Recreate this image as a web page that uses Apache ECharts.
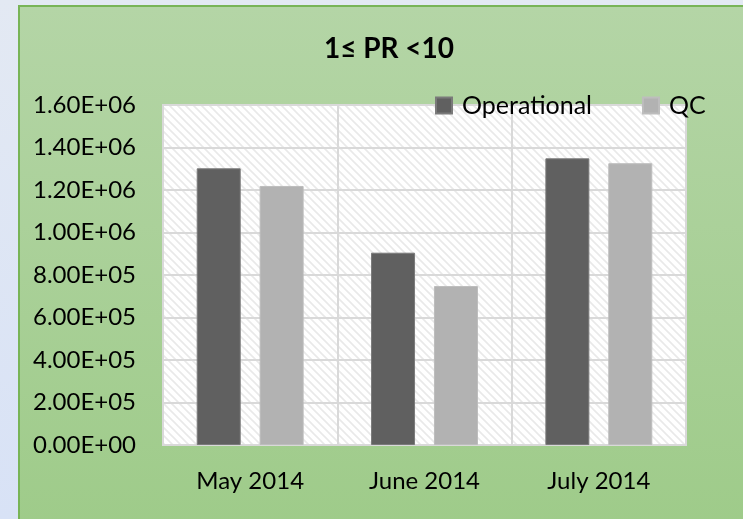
<!DOCTYPE html>
<html>
<head>
<meta charset="utf-8">
<script src="https://cdn.jsdelivr.net/npm/echarts@6/dist/echarts.min.js"></script>
<style>
html,body{margin:0;padding:0;width:743px;height:519px;overflow:hidden;background:linear-gradient(180deg,#e3e9f3 0%,#d8e2f6 100%);}
#panel{position:absolute;left:18px;top:5px;width:740px;height:530px;border:2px solid #78b457;background:linear-gradient(180deg,#b4d5a6 0%,#9ecb89 100%);}
#chart{position:absolute;left:0;top:0;width:743px;height:519px;}
</style>
</head>
<body>
<div id="panel"></div>
<div id="chart"></div>
<script>
const categories = ['May 2014', 'June 2014', 'July 2014'];
const operational = [1302000, 905000, 1349000];
const qc = [1219000, 748000, 1326000];
const yTickLabels = ['0.00E+00','2.00E+05','4.00E+05','6.00E+05','8.00E+05','1.00E+06','1.20E+06','1.40E+06','1.60E+06'];
const seriesNames = ['Operational', 'QC'];
const titleText = '1\u2264 PR <10';

const p = 8;
const cv = document.createElement('canvas');
cv.width = p; cv.height = p;
const cx = cv.getContext('2d');
cx.fillStyle = '#ffffff';
cx.fillRect(0, 0, p, p);
cx.strokeStyle = '#e9e9e9';
cx.lineWidth = 1.6;
cx.beginPath();
cx.moveTo(-2, -2); cx.lineTo(p + 2, p + 2);
cx.moveTo(-p - 2, -2); cx.lineTo(2, p + 2);
cx.moveTo(p - 2, -2); cx.lineTo(2 * p + 2, p + 2);
cx.stroke();

const FONT = 'Lato';
const chart = echarts.init(document.getElementById('chart'), null, {renderer: 'canvas'});
chart.setOption({
  backgroundColor: 'transparent',
  animation: false,
  textStyle: {fontFamily: FONT},
  title: {
    text: titleText,
    left: 384, top: 30, textAlign: 'center',
    textStyle: {fontFamily: FONT, fontSize: 28, fontWeight: 'bold', color: '#000'}
  },
  legend: {
    data: seriesNames,
    left: 430, top: 88,
    itemWidth: 16, itemHeight: 16, itemGap: 50,
    icon: 'rect',
    textStyle: {fontFamily: FONT, fontSize: 25, color: '#000', padding: [0, 0, 0, 5]}
  },
  grid: {
    left: 163, right: 57, top: 105, bottom: 74,
    show: true,
    backgroundColor: {image: cv, repeat: 'repeat'},
    borderColor: '#d9d9d9', borderWidth: 2
  },
  xAxis: {
    type: 'category',
    data: categories,
    axisLine: {show: true, lineStyle: {color: '#d9d9d9', width: 2}},
    axisTick: {show: false},
    splitLine: {show: true, lineStyle: {color: '#d9d9d9', width: 2}},
    axisLabel: {fontFamily: FONT, fontSize: 24, color: '#000', margin: 24}
  },
  yAxis: {
    type: 'value',
    min: 0, max: 1600000, interval: 200000,
    axisLine: {show: false},
    axisTick: {show: false},
    splitLine: {show: true, lineStyle: {color: '#d9d9d9', width: 2}},
    axisLabel: {
      fontFamily: FONT, fontSize: 24, color: '#000', margin: 27,
      formatter: v => yTickLabels[Math.round(v / 200000)]
    }
  },
  series: [
    {name: seriesNames[0], type: 'bar', data: operational, barWidth: 44, barGap: '43%',
     itemStyle: {color: '#606060', borderColor: '#7a7a7a', borderWidth: 1}},
    {name: seriesNames[1], type: 'bar', data: qc, barWidth: 44,
     itemStyle: {color: '#b2b2b2', borderColor: '#bdbdbd', borderWidth: 1}}
  ]
});
</script>
</body>
</html>
